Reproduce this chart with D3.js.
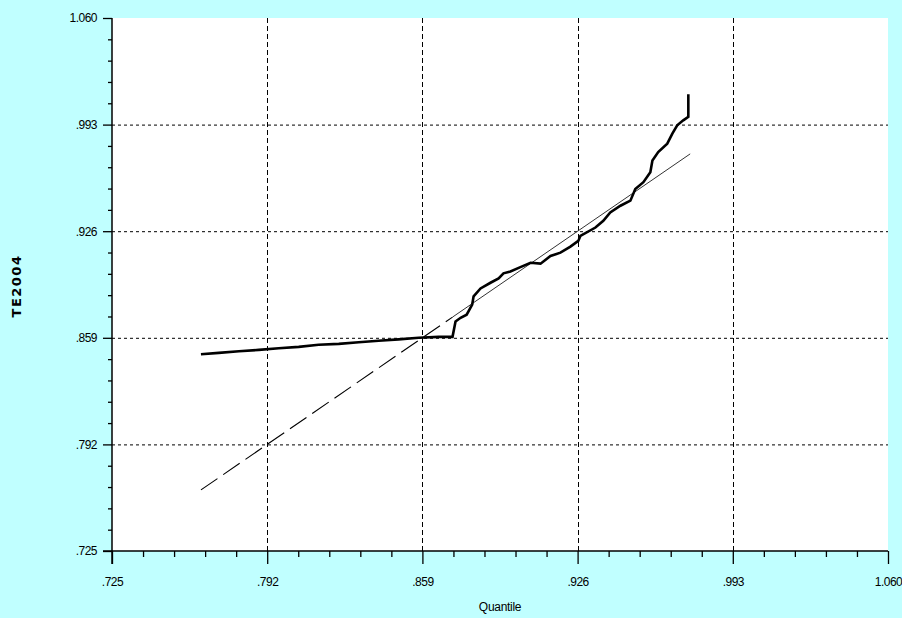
<!DOCTYPE html>
<html>
<head>
<meta charset="utf-8">
<script src="https://cdn.jsdelivr.net/npm/d3@7"></script>
<style>
  html, body { margin: 0; padding: 0; background: #c0ffff; }
  #chart { width: 902px; height: 618px; }
  .tick text { font-family: "Liberation Sans", Arial, sans-serif; font-size: 12px; letter-spacing: -0.5px; fill: #000; }
</style>
</head>
<body>
<div id="chart"></div>
<script>
// tick labels of both axes
var tickValues = [0.725, 0.792, 0.859, 0.926, 0.993, 1.060];
var tickLabels = [".725", ".792", ".859", ".926", ".993", "1.060"];

var quantile = [0.7634, 0.7711, 0.7798, 0.7884, 0.7970, 0.8056, 0.8142, 0.8229, 0.8315, 0.8401,
  0.8487, 0.8574, 0.8660, 0.8720, 0.8733, 0.8755, 0.8781, 0.8805, 0.8811, 0.8841,
  0.8884, 0.8919, 0.8940, 0.8970, 0.9013, 0.9057, 0.9100, 0.9143, 0.9186, 0.9229,
  0.9263, 0.9272, 0.9337, 0.9371, 0.9401, 0.9445, 0.9488, 0.9509, 0.9544, 0.9574,
  0.9583, 0.9608, 0.9647, 0.9669, 0.9690, 0.9716, 0.9738, 0.9738];
var te2004 = [0.8487, 0.8495, 0.8505, 0.8514, 0.8524, 0.8533, 0.8546, 0.8552, 0.8562, 0.8571,
  0.8580, 0.8590, 0.8596, 0.8596, 0.8693, 0.8716, 0.8735, 0.8799, 0.8851, 0.8900,
  0.8936, 0.8963, 0.8995, 0.9007, 0.9034, 0.9062, 0.9056, 0.9104, 0.9125, 0.9163,
  0.9199, 0.9230, 0.9283, 0.9325, 0.9378, 0.9420, 0.9452, 0.9525, 0.9568, 0.9631,
  0.9704, 0.9757, 0.9810, 0.9873, 0.9926, 0.9957, 0.9979, 1.0120];

// reference line y = x
var refStart = 0.7634;
var refBreak = 0.8720;
var refEnd = 0.9746;

function generateChart(id) {
  var container = d3.select("#" + id);
  var width = 902, height = 618;
  var left = 112, right = 888, top = 18, bottom = 551;

  var svg = container.append("svg")
    .attr("width", width)
    .attr("height", height);

  svg.append("rect")
    .attr("x", left).attr("y", top)
    .attr("width", right - left).attr("height", bottom - top)
    .attr("fill", "#fff");

  var x = d3.scaleLinear().domain([0.725, 1.060]).range([left, right]);
  var y = d3.scaleLinear().domain([0.725, 1.060]).range([bottom, top]);

  // minor ticks (5 steps between labels)
  var minor = [];
  for (var i = 0; i < tickValues.length - 1; i++) {
    for (var k = 1; k < 5; k++) minor.push(tickValues[i] + (tickValues[i + 1] - tickValues[i]) * k / 5);
  }

  // grid
  var inner = tickValues.slice(1, 5);
  svg.append("g").selectAll("line").data(inner).enter().append("line")
    .attr("x1", left).attr("x2", right)
    .attr("y1", function(d) { return y(d) + 0.5; })
    .attr("y2", function(d) { return y(d) + 0.5; })
    .attr("stroke", "#000").attr("stroke-dasharray", "3,3");
  svg.append("g").selectAll("line").data(inner).enter().append("line")
    .attr("y1", top).attr("y2", bottom)
    .attr("x1", function(d) { return Math.round(x(d)) + 0.5; })
    .attr("x2", function(d) { return Math.round(x(d)) + 0.5; })
    .attr("stroke", "#000").attr("stroke-dasharray", "5,3");

  // axes
  svg.append("g").attr("transform", "translate(" + left + ",0)")
    .call(d3.axisLeft(y).tickValues(tickValues).tickSize(9).tickSizeOuter(0).tickPadding(6)
      .tickFormat(function(d, i) { return tickLabels[i]; }));
  svg.append("g").attr("transform", "translate(" + left + ",0)")
    .call(d3.axisLeft(y).tickValues(minor).tickSize(4).tickSizeOuter(0).tickFormat(""));
  svg.append("g").attr("transform", "translate(0," + bottom + ")")
    .call(d3.axisBottom(x).tickValues(tickValues).tickSize(13).tickSizeOuter(0).tickPadding(13)
      .tickFormat(function(d, i) { return tickLabels[i]; }));
  svg.append("g").attr("transform", "translate(0," + bottom + ")")
    .call(d3.axisBottom(x).tickValues(minor).tickSize(6).tickSizeOuter(0).tickFormat(""));
  svg.selectAll(".domain").remove();
  svg.selectAll(".tick line").attr("stroke", "#000").attr("stroke-width", 1.3);

  svg.append("line")
    .attr("x1", left - 9).attr("x2", right)
    .attr("y1", bottom).attr("y2", bottom)
    .attr("stroke", "#000").attr("stroke-width", 1.5);
  svg.append("line")
    .attr("x1", left).attr("x2", left)
    .attr("y1", top).attr("y2", bottom + 13)
    .attr("stroke", "#000").attr("stroke-width", 1.5);

  // reference line
  svg.append("line")
    .attr("x1", x(refStart)).attr("y1", y(refStart))
    .attr("x2", x(refBreak)).attr("y2", y(refBreak))
    .attr("stroke", "#000").attr("stroke-width", 1.1)
    .attr("stroke-dasharray", "20,7");
  svg.append("line")
    .attr("x1", x(refBreak)).attr("y1", y(refBreak))
    .attr("x2", x(refEnd)).attr("y2", y(refEnd))
    .attr("stroke", "#333").attr("stroke-width", 1);

  // curve
  svg.append("path")
    .datum(d3.range(quantile.length))
    .attr("fill", "none")
    .attr("stroke", "#000")
    .attr("stroke-width", 2.6)
    .attr("d", d3.line()
      .x(function(i) { return x(quantile[i]); })
      .y(function(i) { return y(te2004[i]); }));

  // titles
  svg.append("text")
    .attr("x", (left + right) / 2).attr("y", 611)
    .attr("text-anchor", "middle")
    .style("font-family", "'Liberation Sans', Arial, sans-serif")
    .style("font-size", "12px")
    .style("letter-spacing", "-0.3px")
    .text("Quantile");
  svg.append("text")
    .attr("transform", "translate(21,286) rotate(-90)")
    .attr("text-anchor", "middle")
    .style("font-family", "'DejaVu Sans', sans-serif")
    .style("font-weight", "bold")
    .style("font-size", "13px")
    .style("letter-spacing", "1.5px")
    .text("TE2004");
}

generateChart("chart");
</script>
</body>
</html>
